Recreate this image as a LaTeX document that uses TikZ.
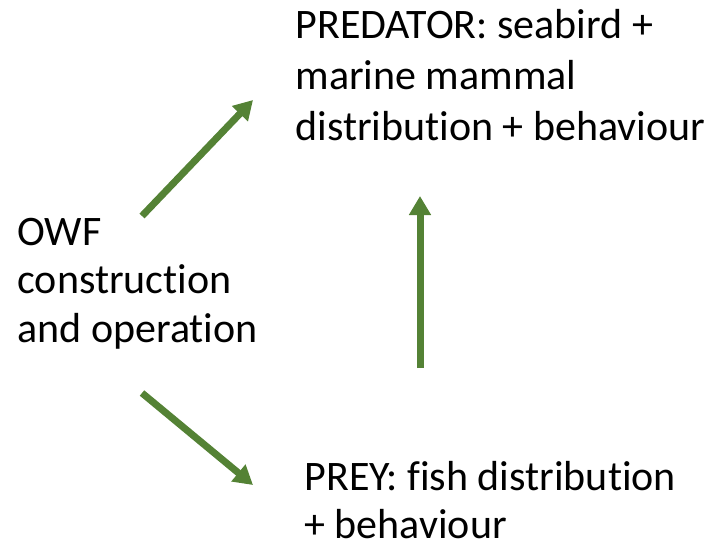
\documentclass[tikz,border=0pt]{standalone}
\usepackage{fontspec}
\setmainfont[Ligatures=NoCommon]{Carlito}
\usetikzlibrary{arrows.meta}
\definecolor{arrowgreen}{HTML}{548235}

\begin{document}
\begin{tikzpicture}[x=1pt,y=-1pt,>={Triangle[width=21pt,length=19pt]},line width=7pt]
\tikzset{label/.style = {anchor=base west, inner sep=0pt, align=left, font=\fontsize{42}{51}\selectfont}}
\tikzset{link/.style = {->, draw=arrowgreen, fill=arrowgreen}}
\useasboundingbox (0,0) rectangle (708,550);

%texts (anchored at the last baseline)
\node[label] (predator) at (292,140) {PREDATOR: seabird +\\marine mammal\\distribution + behaviour};
\node[label,font=\fontsize{42}{48.5}\selectfont] (owf) at (14,342) {OWF\\construction\\and operation};
\node[label,font=\fontsize{42}{48}\selectfont] (prey) at (301,538) {PREY: fish distribution\\+ behaviour};
\coordinate (upstart) at (142,216);
\coordinate (upend) at (253,100);
\coordinate (downstart) at (142,393);
\coordinate (downend) at (253,485);
\coordinate (preystart) at (420,368);
\coordinate (preyend) at (420,196);

%arrows
\draw[link] (upstart) -- (upend);
\draw[link] (downstart) -- (downend);
\draw[link] (preystart) -- (preyend);

\end{tikzpicture}
\end{document}
